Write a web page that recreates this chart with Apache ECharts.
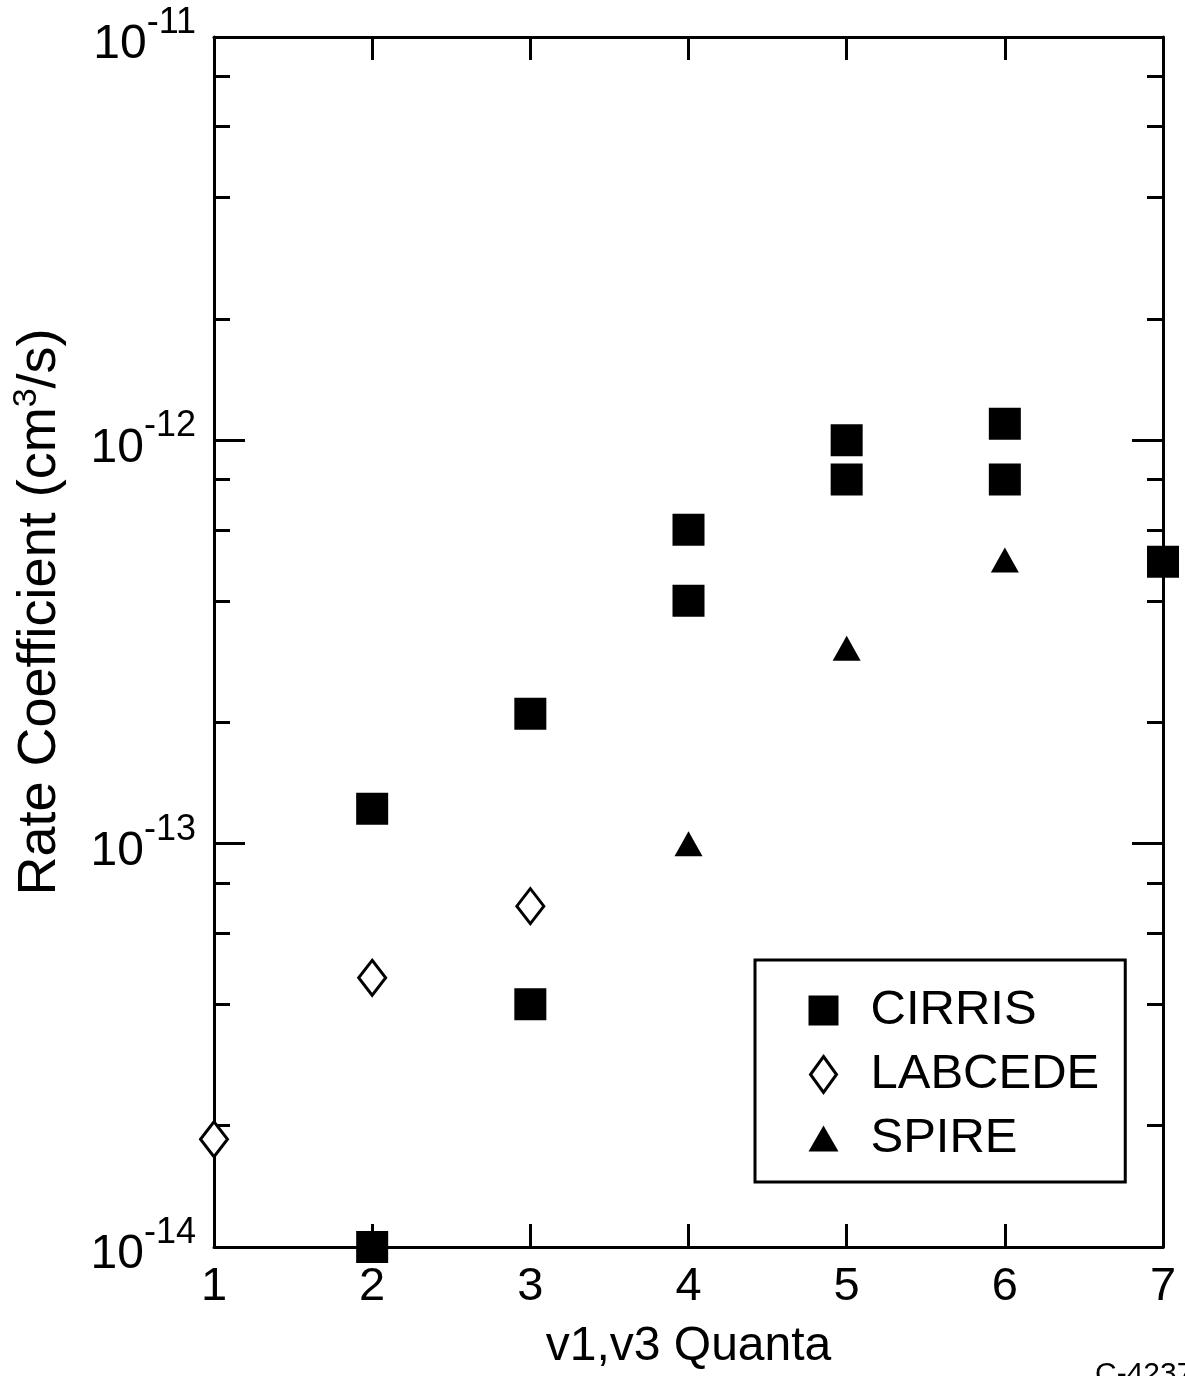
<!DOCTYPE html>
<html>
<head>
<meta charset="utf-8">
<script src="https://cdn.jsdelivr.net/npm/echarts@6/dist/echarts.min.js"></script>
<style>
body { margin: 0; background: #fff; }
#rate_chart { width: 1185px; height: 1376px; }
</style>
</head>
<body>
<div id="rate_chart"></div>
<script>
var FONT = "'Liberation Sans', Arial, Helvetica, sans-serif";

// data
var quanta_ticks = [1, 2, 3, 4, 5, 6, 7];
var decade_ticks = [1e-14, 1e-13, 1e-12, 1e-11];
var minor_ticks = [2e-14, 4e-14, 6e-14, 8e-14,
                   2e-13, 4e-13, 6e-13, 8e-13,
                   2e-12, 4e-12, 6e-12, 8e-12];
var cirris = [[2, 1.22e-13], [2, 1.0e-14], [3, 2.1e-13], [3, 4.0e-14],
              [4, 6.0e-13], [4, 4.0e-13], [5, 1.0e-12], [5, 8.0e-13],
              [6, 1.1e-12], [6, 8.0e-13], [7, 5.0e-13]];
var labcede = [[1, 1.85e-14], [2, 4.65e-14], [3, 7.0e-14]];
var spire = [[4, 1.0e-13], [5, 3.05e-13], [6, 5.05e-13]];

var rate_chart = echarts.init(document.getElementById('rate_chart'));

function xAxisOf(pos, showLabel) {
    return {
        type: 'value', position: pos, min: 1, max: 7, interval: 1,
        axisLine: { lineStyle: { color: '#000', width: 3 } },
        axisTick: { inside: true, length: 23, lineStyle: { color: '#000', width: 3 } },
        axisLabel: {
            show: showLabel, margin: 17, color: '#000', fontFamily: FONT, fontSize: 47,
            customValues: quanta_ticks
        },
        splitLine: { show: false }
    };
}

function yAxisOf(pos, ticks, len, showLine, showLabel) {
    return {
        type: 'log', position: pos, min: 1e-14, max: 1e-11, logBase: 10,
        axisLine: { show: showLine, lineStyle: { color: '#000', width: 3 } },
        axisTick: { inside: true, length: len, customValues: ticks,
                    lineStyle: { color: '#000', width: 3 } },
        axisLabel: {
            show: showLabel, margin: 18, customValues: decade_ticks,
            formatter: function (v) {
                return '{h| }{b|10}{s|' + Math.round(Math.log(v) / Math.LN10) + '}';
            },
            rich: {
                h: { fontSize: 1, lineHeight: 64, verticalAlign: 'middle' },
                b: { fontFamily: FONT, fontSize: 48, color: '#000', lineHeight: 60, verticalAlign: 'bottom' },
                s: { fontFamily: FONT, fontSize: 36, color: '#000', lineHeight: 54, verticalAlign: 'top' }
            }
        },
        splitLine: { show: false }
    };
}

var x_bottom = xAxisOf('bottom', true);
x_bottom.name = 'v1,v3 Quanta';
x_bottom.nameLocation = 'middle';
x_bottom.nameGap = 76;
x_bottom.nameTextStyle = { fontFamily: FONT, fontSize: 48, color: '#000' };

var y_left = yAxisOf('left', decade_ticks, 31, true, true);
y_left.name = '{n|Rate Coefficient (cm}{s|3}{n|/s)}';
y_left.nameLocation = 'middle';
y_left.nameGap = 144;
y_left.nameTextStyle = {
    padding: [0, 0, 0, 60],
    rich: {
        n: { fontFamily: FONT, fontSize: 54, color: '#000', lineHeight: 60, verticalAlign: 'middle' },
        s: { fontFamily: FONT, fontSize: 34, color: '#000', lineHeight: 30, verticalAlign: 'top' }
    }
};

var rate_option = {
    backgroundColor: '#fff',
    animation: false,
    grid: { left: 214, right: 22, top: 37, bottom: 124, containLabel: false },
    legend: {
        orient: 'vertical',
        left: 755, top: 960,
        padding: [26, 26, 19, 48],
        itemGap: 15,
        itemWidth: 38, itemHeight: 38,
        symbolKeepAspect: true,
        borderColor: '#000', borderWidth: 3,
        formatter: function (name) { return '{t|' + name + '}'; },
        textStyle: {
            color: '#000',
            rich: {
                t: { fontFamily: FONT, fontSize: 49, color: '#000', lineHeight: 50, padding: [0, 0, 0, 23] }
            }
        },
        data: [
            { name: 'CIRRIS', icon: 'path://M0,0M38,38M4,4L34,4L34,34L4,34Z' },
            { name: 'LABCEDE', icon: 'path://M0,0M38,38M19,1L32,19L19,37L6,19Z',
              itemStyle: { color: '#fff', borderColor: '#000', borderWidth: 3 } },
            { name: 'SPIRE', icon: 'path://M0,0M38,38M19,6L34,32L4,32Z' }
        ]
    },
    xAxis: [x_bottom, xAxisOf('top', false)],
    yAxis: [
        y_left,
        yAxisOf('left', minor_ticks, 16, false, false),
        yAxisOf('right', decade_ticks, 31, true, false),
        yAxisOf('right', minor_ticks, 16, false, false)
    ],
    graphic: [{
        type: 'text', left: 1095, top: 1360,
        style: { text: 'C-4237', font: '30px ' + FONT, fill: '#000' }
    }],
    series: [
        {
            name: 'CIRRIS', type: 'scatter', clip: false,
            symbol: 'rect', symbolSize: 32,
            itemStyle: { color: '#000', opacity: 1 },
            data: cirris
        },
        {
            name: 'LABCEDE', type: 'scatter', clip: false,
            symbol: 'diamond', symbolSize: [27, 35],
            itemStyle: { color: '#fff', borderColor: '#000', borderWidth: 3, opacity: 1 },
            data: labcede
        },
        {
            name: 'SPIRE', type: 'scatter', clip: false,
            symbol: 'triangle', symbolSize: [28, 25],
            itemStyle: { color: '#000', opacity: 1 },
            data: spire
        }
    ]
};
rate_chart.setOption(rate_option);
</script>
</body>
</html>
